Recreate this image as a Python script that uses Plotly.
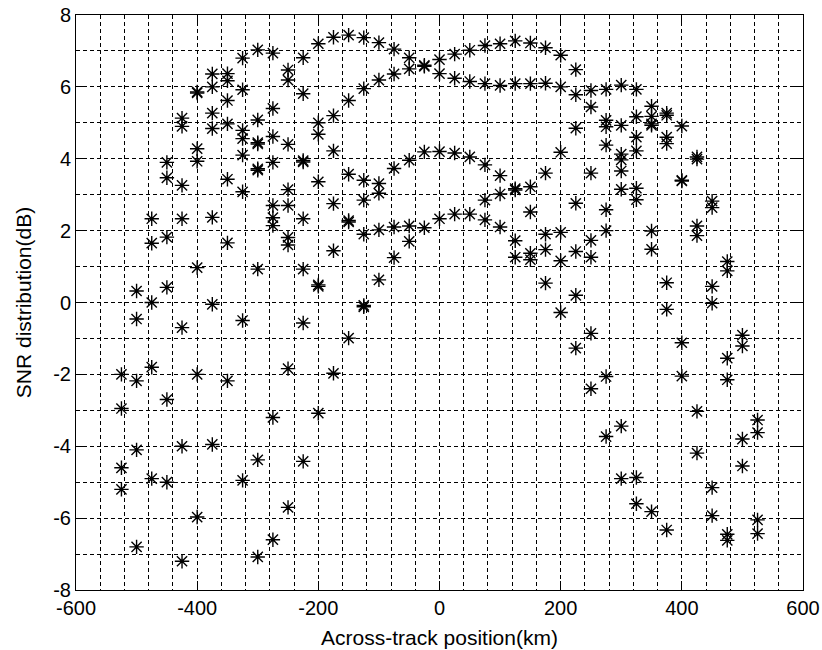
import plotly.graph_objects as go

# Across-track positions (km) and SNR values (dB), grouped by region
west_positions = [-525, -500, -475, -450, -425, -400, -375, -350, -325, -300, -275, -250, -225]
west_snr = [
    [-2.0, -2.95, -4.6, -5.2],
    [0.32, -0.46, -2.18, -4.1, -6.8],
    [2.33, 1.65, 0.0, -1.8, -4.9],
    [3.9, 3.47, 1.82, 0.42, -2.7, -5.0],
    [5.13, 4.9, 3.26, 2.33, -0.7, -4.0, -7.2],
    [5.86, 5.83, 4.28, 3.93, 0.97, -2.0, -5.97],
    [6.36, 6.0, 5.27, 4.84, 2.37, -0.05, -3.95],
    [6.37, 6.17, 5.62, 4.97, 3.43, 1.66, -2.18],
    [6.8, 5.92, 4.79, 4.56, 4.1, 3.08, -0.5, -4.95],
    [7.03, 5.08, 4.45, 4.41, 3.72, 3.68, 0.93, -4.38, -7.08],
    [6.94, 5.4, 4.62, 3.9, 2.7, 2.36, 2.14, -3.2, -6.6],
    [6.47, 6.19, 4.4, 3.14, 2.7, 1.81, 1.6, -1.84, -5.7],
    [6.81, 5.81, 3.95, 3.91, 2.33, 0.93, -0.57, -4.42],
]

center_positions = [-200, -175, -150, -125, -100, -75, -50, -25, 0, 25, 50, 75, 100, 125, 150, 175, 200]
center_snr = [
    [7.2, 5.0, 4.68, 3.36, 0.49, 0.45, -3.08],
    [7.38, 5.2, 4.22, 2.75, 1.44, -1.97],
    [7.44, 5.62, 3.57, 2.28, 2.24, -0.99],
    [7.37, 5.95, 3.4, 2.85, 1.9, -0.08, -0.12],
    [7.23, 6.19, 3.31, 3.04, 2.02, 0.63],
    [7.05, 6.36, 3.73, 2.1, 1.25],
    [6.81, 6.5, 3.96, 2.13, 1.7],
    [6.6, 6.57, 4.19, 2.08],
    [6.76, 6.37, 4.2, 2.33],
    [6.91, 6.24, 4.16, 2.46],
    [7.02, 6.15, 4.05, 2.46],
    [7.15, 6.09, 3.83, 2.85, 2.3],
    [7.2, 6.04, 3.53, 3.02, 2.1],
    [7.28, 6.09, 3.17, 3.13, 1.72, 1.26],
    [7.22, 6.09, 3.22, 2.52, 1.37, 1.19],
    [7.09, 6.1, 3.6, 1.9, 1.47, 0.54],
    [6.88, 6.0, 4.18, 1.95, 1.16, -0.28],
]

east_positions = [225, 250, 275, 300, 325, 350, 375, 400, 425, 450, 475, 500, 525]
east_snr = [
    [6.48, 5.78, 4.85, 2.76, 1.42, 0.2, -1.27],
    [5.9, 5.44, 3.6, 1.73, 1.26, -0.86, -2.4],
    [5.93, 5.07, 4.89, 4.38, 2.58, 2.0, -2.06, -3.73],
    [6.05, 4.93, 4.13, 3.97, 3.66, 3.15, -3.44, -4.9],
    [5.93, 5.17, 4.6, 4.22, 3.18, 2.86, -4.87, -5.6],
    [5.46, 5.18, 4.97, 4.93, 1.99, 1.48, -5.82],
    [5.27, 5.21, 4.6, 4.42, 0.55, -0.19, -6.33],
    [4.91, 3.4, 3.38, -1.12, -2.05],
    [4.05, 3.99, 2.13, 1.86, -3.03, -4.19],
    [2.82, 2.64, 0.45, -0.02, -5.15, -5.93],
    [1.14, 0.88, -1.55, -2.15, -6.45, -6.62],
    [-0.91, -1.21, -3.8, -4.55],
    [-3.27, -3.62, -6.05, -6.43],
]

x_tick_values = [-600, -400, -200, 0, 200, 400, 600]
x_tick_labels = ["-600", "-400", "-200", "0", "200", "400", "600"]
y_tick_values = [-8, -6, -4, -2, 0, 2, 4, 6, 8]
y_tick_labels = ["-8", "-6", "-4", "-2", "0", "2", "4", "6", "8"]

x_title = "Across-track position(km)"
y_title = "SNR distribution(dB)"

xs, ys = [], []
for positions, columns in ((west_positions, west_snr), (center_positions, center_snr), (east_positions, east_snr)):
    for pos, vals in zip(positions, columns):
        for v in vals:
            xs.append(pos)
            ys.append(v)

fig = go.Figure()
fig.add_trace(go.Scatter(
    x=xs, y=ys, mode="markers",
    marker=dict(symbol="asterisk-open", size=12, color="black",
                line=dict(color="black", width=1.4)),
    hoverinfo="x+y",
))

FONT = "Liberation Sans, Arial, Helvetica, sans-serif"
grid_style = dict(gridcolor="black", griddash="4px,3px", gridwidth=1)

fig.update_layout(
    width=822, height=650,
    margin=dict(l=76, r=19, t=15, b=60),
    paper_bgcolor="white", plot_bgcolor="white",
    showlegend=False,
    font=dict(family=FONT, size=20, color="black"),
)

fig.update_xaxes(
    range=[-600, 600], tickmode="array", tickvals=x_tick_values, ticktext=x_tick_labels,
    ticks="inside", ticklen=9, tickcolor="black", tickwidth=1,
    showline=True, linecolor="black", linewidth=1, mirror="ticks",
    showgrid=True, **grid_style, zeroline=False,
    minor=dict(dtick=40, tick0=-600, showgrid=True, ticks="", **grid_style),
    tickfont=dict(size=20), ticklabeloverflow="allow",
    title=dict(text=x_title, font=dict(size=21), standoff=12),
    automargin=False,
)
fig.update_yaxes(
    range=[-8, 8], tickmode="array", tickvals=y_tick_values, ticktext=y_tick_labels,
    ticks="inside", ticklen=9, tickcolor="black", tickwidth=1,
    showline=True, linecolor="black", linewidth=1, mirror="ticks",
    showgrid=True, **grid_style, zeroline=False,
    minor=dict(dtick=1, tick0=-8, showgrid=True, ticks="", **grid_style),
    tickfont=dict(size=20), ticklabeloverflow="allow",
    title=dict(text=y_title, font=dict(size=21), standoff=15),
    automargin=False,
)

# Remove the default page margin so the 822x650 figure fills the window exactly
fig.write_html(
    "out.html",
    config={"displayModeBar": False},
    post_script="document.body.style.margin='0px'; document.body.style.padding='0px';",
)
